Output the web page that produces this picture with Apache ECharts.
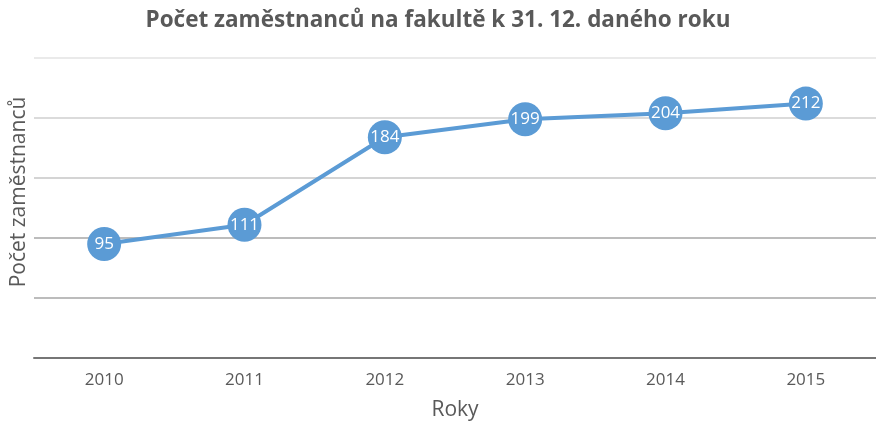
<!DOCTYPE html>
<html>
<head>
<meta charset="utf-8">
<script src="https://cdn.jsdelivr.net/npm/echarts@6/dist/echarts.min.js"></script>
<style>
  html, body { margin: 0; padding: 0; background: #fff; }
  #chart { width: 876px; height: 421px; }
</style>
</head>
<body>
<div id="chart"></div>
<script>
// roky a pocty zamestnancu
var years = ['2010', '2011', '2012', '2013', '2014', '2015'];
var employees = [95, 111, 184, 199, 204, 212];

var myChart = echarts.init(document.getElementById('chart'));

myChart.setOption({
  animation: false,
  title: {
    text: 'Počet zaměstnanců na fakultě k 31. 12. daného roku',
    left: 'center',
    top: 4,
    textStyle: {
      fontFamily: 'Open Sans',
      fontWeight: 'bold',
      fontSize: 22.5,
      color: '#595959'
    }
  },
  grid: {
    left: 34,
    right: 0,
    top: 58,
    bottom: 63,
    outerBoundsMode: 'none'
  },
  xAxis: {
    type: 'category',
    data: years,
    name: 'Roky',
    nameLocation: 'middle',
    nameGap: 42,
    nameTextStyle: { fontFamily: 'Open Sans', fontSize: 21, color: '#595959' },
    axisLine: { lineStyle: { color: '#767676', width: 2 } },
    axisTick: { show: false },
    axisLabel: { fontFamily: 'Open Sans', fontSize: 17, color: '#595959', margin: 14 }
  },
  yAxis: {
    type: 'value',
    min: 0,
    max: 250,
    interval: 50,
    name: 'Počet zaměstnanců',
    nameLocation: 'middle',
    nameGap: 4,
    nameTextStyle: { fontFamily: 'Open Sans', fontSize: 21, color: '#595959', padding: [0, 0, 0, 32] },
    axisLine: { show: false },
    axisTick: { show: false },
    axisLabel: { show: false },
    splitLine: {
      lineStyle: {
        color: ['#767676', '#a6a6a6', '#a6a6a6', '#c6c6c6', '#cfcfcf', '#e3e3e3'],
        width: 1.5
      }
    }
  },
  series: [
    {
      type: 'line',
      data: employees,
      symbol: 'circle',
      symbolSize: 34,
      itemStyle: { color: '#5b9bd5' },
      lineStyle: { color: '#5b9bd5', width: 4 },
      label: {
        show: true,
        position: 'inside',
        color: '#fff',
        fontFamily: 'Open Sans',
        fontSize: 17
      }
    }
  ]
});
</script>
</body>
</html>
